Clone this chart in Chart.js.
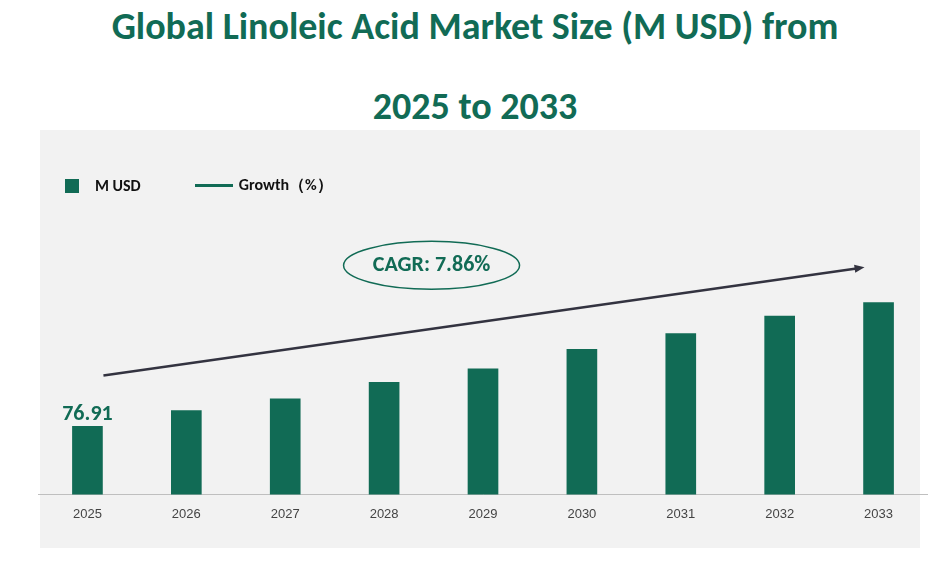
<!DOCTYPE html>
<html>
<head>
<meta charset="utf-8">
<script src="https://cdn.jsdelivr.net/npm/chart.js@4.4.0/dist/chart.umd.min.js"></script>
<style>
  body { margin: 0; width: 950px; height: 561px; background: #fff; font-family: Calibri, "Liberation Sans", Arial, sans-serif; position: relative; overflow: hidden; }
  #title { position: absolute; top: 0; left: 0; width: 950px; text-align: center; color: #116b55; font-weight: bold; font-size: 38px; line-height: 80px; margin-top: -14px; }
  #panel { position: absolute; left: 40px; top: 130px; width: 880px; height: 418px; background: #f2f2f2; }
  #legend { position: absolute; left: 65px; top: 175px; font-size: 16px; font-weight: bold; color: #111; display: flex; align-items: center; z-index: 2; }
  .sw { display: inline-block; width: 14px; height: 14px; background: #116b55; margin-right: 16px; }
  .ln { display: inline-block; width: 38px; height: 3px; background: #116b55; margin: 0 6px 0 54px; }
  #wrap { position: absolute; left: 38px; top: 130px; width: 890px; height: 418px; }
</style>
</head>
<body>
<div id="title">Global Linoleic Acid Market Size (M USD) from<br>2025 to 2033</div>
<div id="panel"></div>
<div id="legend"><span class="sw"></span>M USD<span class="ln"></span>Growth（%）</div>
<div id="wrap"><canvas id="chart" width="890" height="418"></canvas></div>
<script>
const years = ["2025", "2026", "2027", "2028", "2029", "2030", "2031", "2032", "2033"];
const marketSize = [76.91, 85.0, 91.1, 99.6, 106.7, 116.8, 124.9, 134.0, 141.0];
const cagrText = "CAGR: 7.86%";
const arrowFrom = 103.2;
const arrowTo = 159.2;

const overlay = {
  id: "overlay",
  afterDatasetsDraw(chart) {
    const ctx = chart.ctx;
    const x = chart.scales.x, y = chart.scales.y;
    const x1 = x.getPixelForValue(0) + 16, y1 = y.getPixelForValue(arrowFrom);
    const x2 = x.getPixelForValue(8) - 14, y2 = y.getPixelForValue(arrowTo);
    ctx.save();
    ctx.strokeStyle = "#333340";
    ctx.fillStyle = "#333340";
    ctx.lineWidth = 2.5;
    ctx.beginPath(); ctx.moveTo(x1, y1); ctx.lineTo(x2 - 8, y2 + 1.2); ctx.stroke();
    const a = Math.atan2(y2 - y1, x2 - x1);
    ctx.beginPath();
    ctx.moveTo(x2, y2);
    ctx.lineTo(x2 - 10 * Math.cos(a) + 4 * Math.sin(a), y2 - 10 * Math.sin(a) - 4 * Math.cos(a));
    ctx.lineTo(x2 - 10 * Math.cos(a) - 4 * Math.sin(a), y2 - 10 * Math.sin(a) + 4 * Math.cos(a));
    ctx.fill();
    // CAGR ellipse
    const cx = (x.getPixelForValue(3) + x.getPixelForValue(4)) / 2 - 2;
    const cy = y2 - 2;
    ctx.strokeStyle = "#116b55";
    ctx.lineWidth = 1.5;
    ctx.beginPath(); ctx.ellipse(cx, cy, 88, 24, 0, 0, Math.PI * 2); ctx.stroke();
    ctx.fillStyle = "#116b55";
    ctx.font = "bold 22px Calibri, 'Liberation Sans', Arial, sans-serif";
    ctx.textAlign = "center"; ctx.textBaseline = "middle";
    ctx.fillText(cagrText, cx, cy);
    // first value label
    ctx.textBaseline = "bottom";
    ctx.fillText(marketSize[0].toFixed(2), x.getPixelForValue(0), y.getPixelForValue(marketSize[0]) - 1);
    ctx.restore();
  }
};

new Chart(document.getElementById("chart"), {
  type: "bar",
  data: {
    labels: years,
    datasets: [{ label: "M USD", data: marketSize, backgroundColor: "#116b55", barThickness: 30 }],
  },
  options: {
    responsive: false,
    animation: false,
    layout: { padding: { top: 20, bottom: 14, left: 0, right: 0 } },
    plugins: { legend: { display: false }, tooltip: { enabled: false } },
    scales: {
      x: {
        grid: { display: false, drawTicks: false },
        border: { color: "#bfbfbf" },
        ticks: { color: "#444", font: { size: 13 }, padding: 12, maxRotation: 0 },
      },
      y: { display: false, min: 41.6, max: 220 },
    },
  },
  plugins: [overlay],
});
</script>
</body>
</html>
